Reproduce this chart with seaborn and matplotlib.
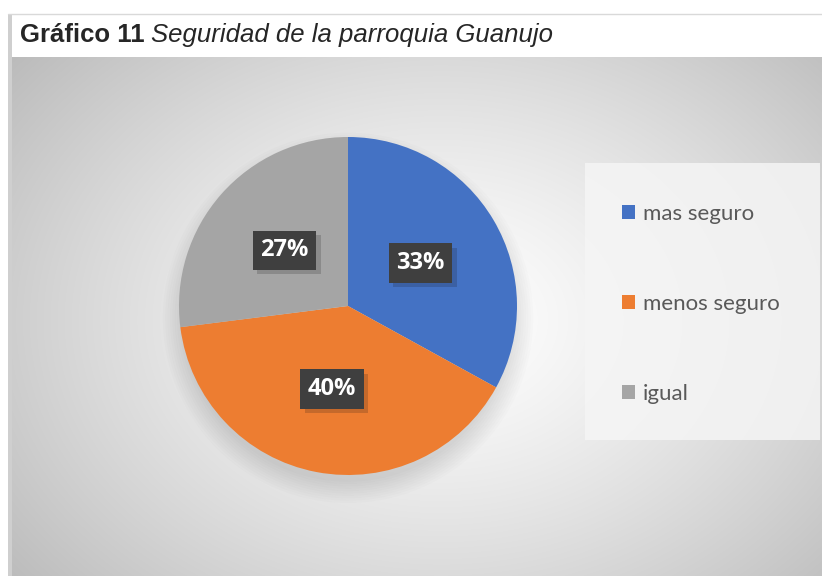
import matplotlib
matplotlib.use("Agg")
import matplotlib.pyplot as plt
import matplotlib.patheffects as pe
from matplotlib.patches import Rectangle, Circle
import seaborn as sns
import numpy as np

# Data
categories = ["mas seguro", "menos seguro", "igual"]
values = [33, 40, 27]
colors = ["#4472C4", "#ED7D31", "#A5A5A5"]
title_bold = "Gráfico 11"
title_rest = "Seguridad de la parroquia Guanujo"

sns.set_theme(style="white")
plt.rcParams["font.family"] = ["Lato", "DejaVu Sans"]

W, H = 822, 576
fig = plt.figure(figsize=(W / 100, H / 100), dpi=100)
fig.patch.set_facecolor("white")


def fx(px):
    return px / W


def fy(py):
    return 1 - py / H


# radial gradient background of the chart area
bg_ax = fig.add_axes([fx(8), 0, fx(W - 8), (H - 14) / H])
bg_ax.set_axis_off()
yy, xx = np.mgrid[14:H, 8:W]
d = np.sqrt(((xx - 440) / 560.0) ** 2 + ((yy - 320) / 420.0) ** 2)
shade = 1.0 - 0.27 * np.clip(d, 0, 1.2) ** 1.3
bg_ax.imshow(np.dstack([shade] * 3), aspect="auto", extent=(0, 1, 0, 1))
bg_ax.set_xlim(0, 1)
bg_ax.set_ylim(0, 1)

# title strip and frame lines
fig.patches.append(Rectangle((fx(12), fy(57)), fx(W - 12), (57 - 14) / H,
                             transform=fig.transFigure, facecolor="white",
                             edgecolor="none", zorder=1))
fig.patches.append(Rectangle((fx(8), 0), fx(4), (H - 14) / H,
                             transform=fig.transFigure, facecolor="#cfcfcf",
                             edgecolor="none", zorder=1))
fig.add_artist(plt.Line2D([fx(8), 1], [fy(14), fy(14)], color="#d9d9d9", lw=1))

t1 = fig.text(fx(20), fy(35), title_bold, fontsize=18.5, fontweight="bold",
              family=["Liberation Sans", "DejaVu Sans"], va="center", ha="left")
fig.canvas.draw()
ext = t1.get_window_extent(renderer=fig.canvas.get_renderer())
fig.text(ext.x1 / W + fx(6), fy(35), title_rest, fontsize=18.5, style="italic",
         family=["Liberation Sans", "DejaVu Sans"], va="center", ha="left")

# legend panel
fig.patches.append(Rectangle((fx(585), fy(440)), fx(820 - 585), (440 - 163) / H,
                             transform=fig.transFigure, facecolor="#f5f5f5",
                             edgecolor="none", alpha=0.85, zorder=1))

# pie
cx, cy, r = 348, 306, 169
pad = 1.25
ax = fig.add_axes([fx(cx - r * pad), fy(cy + r * pad), fx(2 * r * pad), 2 * r * pad / H])
ax.set_axis_off()

# soft shadow under the pie
for i in range(10):
    ax.add_patch(Circle((0.0, -0.07), 0.97 + 0.014 * i, facecolor="black",
                        edgecolor="none", alpha=0.012, zorder=0, clip_on=False))

wedges, texts, autotexts = ax.pie(
    values, colors=colors, startangle=90, counterclock=False,
    autopct="%1.0f%%", pctdistance=0.5,
    wedgeprops=dict(linewidth=0),
    textprops=dict(color="white", fontsize=17, fontweight="bold",
                   family=["Open Sans", "DejaVu Sans"]),
)
for w in wedges:
    w.set_zorder(2)
for t in autotexts:
    t.set_zorder(5)
    t.set_bbox(dict(boxstyle="square,pad=0.32", facecolor="#3f3f3f",
                    edgecolor="none"))
    t.get_bbox_patch().set_path_effects(
        [pe.SimplePatchShadow(offset=(3, -3), alpha=0.18), pe.Normal()])
ax.set_xlim(-pad, pad)
ax.set_ylim(-pad, pad)
ax.set_position([fx(cx - r * pad), fy(cy + r * pad), fx(2 * r * pad), 2 * r * pad / H])

leg = fig.legend(wedges, categories, loc="center left",
                 bbox_to_anchor=(fx(622), fy(303.5)), frameon=False,
                 fontsize=16, labelspacing=3.15, handlelength=0.6,
                 handleheight=0.6, handletextpad=0.35, borderpad=0,
                 borderaxespad=0)
for txt in leg.get_texts():
    txt.set_color("#595959")

fig.savefig("out.png", dpi=100)
